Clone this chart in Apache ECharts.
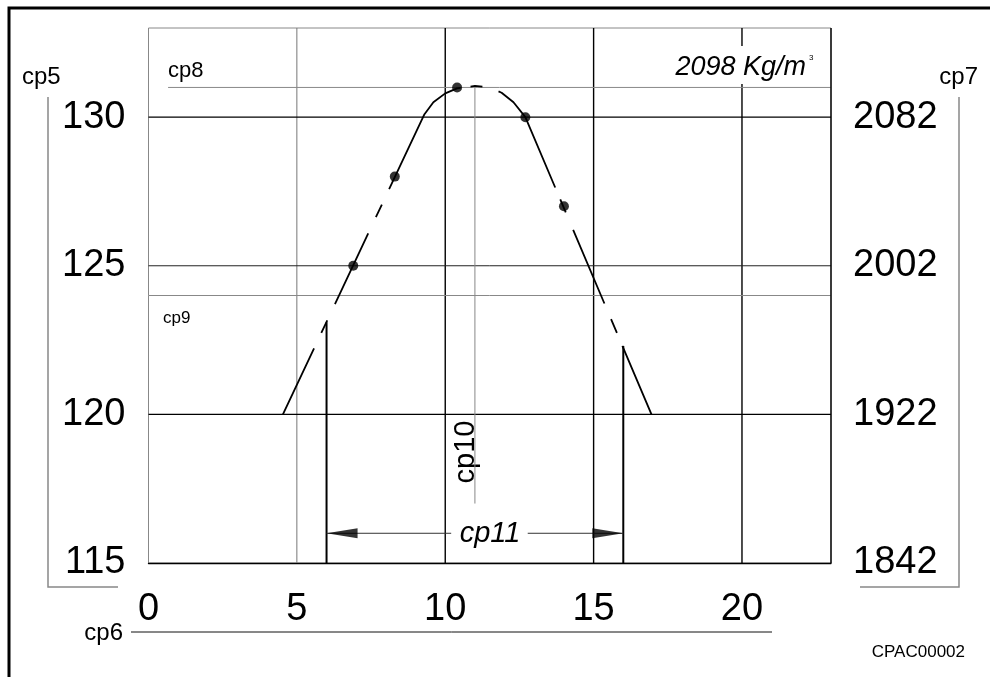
<!DOCTYPE html>
<html>
<head>
<meta charset="utf-8">
<script src="https://cdn.jsdelivr.net/npm/echarts@6/dist/echarts.min.js"></script>
<style>
html,body{margin:0;padding:0;background:#fff;}
#chart{width:990px;height:677px;}
</style>
</head>
<body>
<div id="chart"></div>
<script>
// ---- data ----
var xTicks = [0, 5, 10, 15, 20];
var yTicksLeft = [115, 120, 125, 130];
var yTicksRight = ['1842', '1922', '2002', '2082'];
var testPoints = [[6.9, 125], [8.3, 128], [10.4, 131], [12.7, 130], [14.0, 127]];
var curvePoints = [[4.53, 120], [9.3, 130.1], [9.6, 130.5], [10.0, 130.8], [10.4, 130.97], [11.0, 131.05], [11.5, 131.0], [11.9, 130.82], [12.3, 130.5], [12.7, 130.0], [16.95, 120]];
var maxDensity = 131;      // cp8 line
var limitDensity = 124;    // cp9 line
var optimumMoisture = 11;  // cp10 line
var rangeLow = 6, rangeHigh = 16;
var rangeLowTop = 123.1, rangeHighTop = 122.3;
var dimY = 116;
var majorX = [10, 15, 20];
var minorX = [5];
var majorY = [120, 130];
var minorY = [125];

var FONT = 'Liberation Sans, Arial, sans-serif';
var curveDash = [73, 17, 14, 18, 78, 18, 14, 17, 129, 10, 12, 17, 114, 13, 14, 19, 80, 17, 15, 14, 80, 60];
var chart = echarts.init(document.getElementById('chart'), null, {renderer: 'canvas'});

function seg(p1, p2, color, width, z) {
  return {type: 'line', data: [p1, p2], showSymbol: false, silent: true, z: z || 2,
    lineStyle: {color: color, width: width}, animation: false};
}
var series = [];
majorX.forEach(function (x) { series.push(seg([x, 115], [x, 133], '#000', 1.4)); });
minorX.forEach(function (x) { series.push(seg([x, 115], [x, 133], '#777', 1)); });
majorY.forEach(function (y) { series.push(seg([0, y], [23, y], '#000', 1.4)); });
minorY.forEach(function (y) { series.push(seg([0, y], [23, y], '#222', 1)); });
series.push(seg([0.66, maxDensity], [23, maxDensity], '#888', 1));
series.push(seg([0, limitDensity], [23, limitDensity], '#888', 1));
series.push(seg([optimumMoisture, 117], [optimumMoisture, maxDensity], '#888', 1));
series.push(seg([23, 115], [23, 133], '#000', 1.4));
series.push(seg([rangeLow, 115], [rangeLow, rangeLowTop], '#000', 2));
series.push(seg([rangeHigh, 115], [rangeHigh, rangeHighTop], '#000', 2));
series.push(seg([rangeLow, dimY], [10.2, dimY], '#333', 1));
series.push(seg([12.78, dimY], [rangeHigh, dimY], '#333', 1));
// curve
series.push({type: 'line', data: curvePoints, showSymbol: false, silent: true, z: 5, animation: false,
  lineStyle: {color: '#000', width: 1.8, type: curveDash}});
// points
series.push({type: 'scatter', data: testPoints, symbol: 'circle', symbolSize: 10, z: 6, animation: false,
  itemStyle: {color: '#000'}});
// arrowheads
series.push({type: 'scatter', data: [[rangeLow, dimY]], symbol: 'path://M0,5 L31,0 L31,10 Z',
  symbolSize: [31, 10], symbolOffset: [15.5, 0], itemStyle: {color: '#000'}, z: 6, animation: false});
series.push({type: 'scatter', data: [[rangeHigh, dimY]], symbol: 'path://M31,5 L0,0 L0,10 Z',
  symbolSize: [31, 10], symbolOffset: [-15.5, 0], itemStyle: {color: '#000'}, z: 6, animation: false});

var option = {
  animation: false,
  backgroundColor: '#fff',
  grid: {left: 148.5, top: 28, right: 159, bottom: 114, show: true, borderColor: '#888', borderWidth: 1},
  xAxis: {type: 'value', min: 0, max: 23, interval: 5,
    axisLine: {show: true, lineStyle: {color: '#000', width: 1.4}},
    axisTick: {show: false}, splitLine: {show: false},
    axisLabel: {margin: 28, fontSize: 38, color: '#000', fontFamily: FONT,
      formatter: function (v) { return xTicks.indexOf(v) >= 0 ? String(v) : ''; }}},
  yAxis: [
    {type: 'value', min: 115, max: 133, interval: 5, position: 'left',
      axisLine: {show: false}, axisTick: {show: false}, splitLine: {show: false},
      axisLabel: {margin: 23, fontSize: 38, color: '#000', fontFamily: FONT,
        formatter: function (v) { return yTicksLeft.indexOf(v) >= 0 ? String(v) : ''; }}},
    {type: 'value', min: 115, max: 133, interval: 5, position: 'right',
      axisLine: {show: false}, axisTick: {show: false}, splitLine: {show: false},
      axisLabel: {margin: 22, fontSize: 38, color: '#000', fontFamily: FONT,
        formatter: function (v) { var i = yTicksLeft.indexOf(v); return i >= 0 ? yTicksRight[i] : ''; }}}
  ],
  series: series,
  graphic: [
    {type: 'rect', shape: {x: 9, y: 8, width: 1000, height: 700}, style: {fill: 'none', stroke: '#000', lineWidth: 3}, silent: true},
    {type: 'polyline', shape: {points: [[48, 97], [48, 587], [118, 587]]}, style: {stroke: '#888', lineWidth: 1.5, fill: 'none'}},
    {type: 'polyline', shape: {points: [[959, 97], [959, 587], [860, 587]]}, style: {stroke: '#888', lineWidth: 1.5, fill: 'none'}},
    {type: 'line', shape: {x1: 131, y1: 632, x2: 772, y2: 632}, style: {stroke: '#111', lineWidth: 1}},
    {type: 'text', x: 22, y: 77, style: {text: 'cp5', font: '24px ' + FONT, fill: '#000', align: 'left', verticalAlign: 'middle'}},
    {type: 'text', x: 978, y: 77, style: {text: 'cp7', font: '24px ' + FONT, fill: '#000', align: 'right', verticalAlign: 'middle'}},
    {type: 'text', x: 123, y: 633, style: {text: 'cp6', font: '24px ' + FONT, fill: '#000', align: 'right', verticalAlign: 'middle'}},
    {type: 'text', x: 168, y: 71, style: {text: 'cp8', font: '22px ' + FONT, fill: '#000', align: 'left', verticalAlign: 'middle'}},
    {type: 'rect', z: 10, shape: {x: 658, y: 46, width: 160, height: 38}, style: {fill: '#fff'}},
    {type: 'text', z: 11, x: 806, y: 67, style: {text: '2098 Kg/m', font: 'italic 27px ' + FONT, fill: '#000', align: 'right', verticalAlign: 'middle'}},
    {type: 'text', z: 11, x: 809, y: 58, style: {text: '3', font: '8px ' + FONT, fill: '#000', align: 'left', verticalAlign: 'middle'}},
    {type: 'text', x: 163, y: 318, style: {text: 'cp9', font: '17px ' + FONT, fill: '#000', align: 'left', verticalAlign: 'middle'}},
    {type: 'text', x: 490, y: 534, style: {text: 'cp11', font: 'italic 29px ' + FONT, fill: '#000', align: 'center', verticalAlign: 'middle'}},
    {type: 'text', x: 466, y: 452, rotation: Math.PI / 2, style: {text: 'cp10', font: '29px ' + FONT, fill: '#000', align: 'center', verticalAlign: 'middle'}},
    {type: 'text', x: 965, y: 652, style: {text: 'CPAC00002', font: '17px ' + FONT, fill: '#000', align: 'right', verticalAlign: 'middle'}}
  ]
};
chart.setOption(option);
</script>
</body>
</html>
